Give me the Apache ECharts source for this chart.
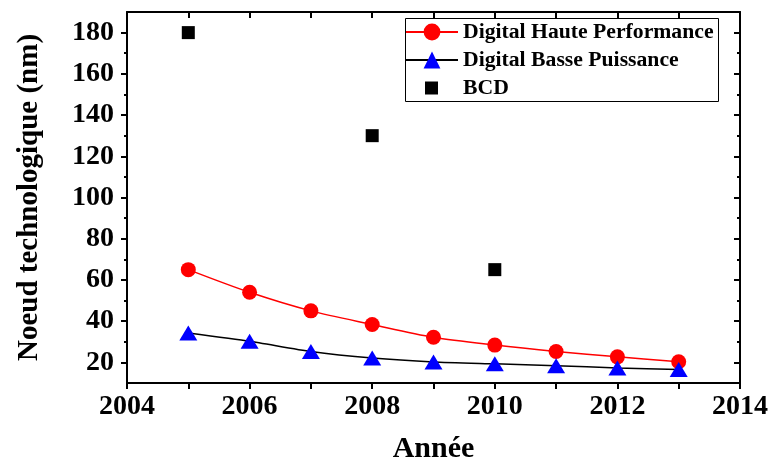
<!DOCTYPE html>
<html>
<head>
<meta charset="utf-8">
<script src="https://cdn.jsdelivr.net/npm/echarts@6/dist/echarts.min.js"></script>
<style>
  html, body { margin: 0; padding: 0; background: #fff; }
  #chart { width: 770px; height: 459px; }
</style>
</head>
<body>
<div id="chart"></div>
<script>
// ---- Data ----
const years = [2005, 2006, 2007, 2008, 2009, 2010, 2011, 2012, 2013];
const hautePerformance = [65, 54, 45, 38.4, 32.2, 28.4, 25.3, 22.7, 20.3];
const bassePuissance = [34.3, 30.3, 25.3, 22.1, 20.2, 19.3, 18.4, 17.3, 16.6];
const bcdYears = [2005, 2008, 2010];
const bcdValues = [180, 130, 65];
const yMajorTicks = [20, 40, 60, 80, 100, 120, 140, 160, 180];
const yMinorTicks = [30, 50, 70, 90, 110, 130, 150, 170];
const seriesNames = ['Digital Haute Performance', 'Digital Basse Puissance', 'BCD'];
const xTitle = 'Année';
const yTitle = 'Noeud technologique (nm)';

const FONT = '"Liberation Serif", "Times New Roman", serif';
const chart = echarts.init(document.getElementById('chart'), null, { renderer: 'canvas' });

const axisLine = { show: true, onZero: false, lineStyle: { color: '#000', width: 2 } };
const legendText = { fontFamily: FONT, fontWeight: 'bold', fontSize: 21.7, color: '#000', lineHeight: 22 };

const option = {
  backgroundColor: '#fff',
  animation: false,
  grid: { left: 127, right: 30, top: 12, bottom: 76, containLabel: false, outerBoundsMode: 'none' },
  legend: [
    {
      data: [seriesNames[0], seriesNames[1]],
      orient: 'vertical',
      left: 403, top: 21,
      padding: [0, 0, 0, 2],
      itemWidth: 52, itemHeight: 21, itemGap: 6,
      textStyle: legendText
    },
    {
      data: [seriesNames[2]],
      orient: 'vertical',
      left: 425, top: 77,
      padding: 0,
      itemWidth: 13, itemHeight: 13,
      textStyle: Object.assign({}, legendText, { padding: [0, 0, 0, 20] })
    }
  ],
  graphic: [{
    type: 'rect', left: 403, top: 16, z: 100,
    shape: { width: 313, height: 83 },
    style: { fill: 'none', stroke: '#000', lineWidth: 1 }
  }],
  xAxis: [
    {
      type: 'value', position: 'bottom', min: 2004, max: 2014, interval: 2,
      axisLine: axisLine,
      axisTick: { show: true, inside: false, length: 6, lineStyle: { color: '#000', width: 2 } },
      minorTick: { show: true, splitNumber: 2, length: 6, lineStyle: { color: '#000', width: 2 } },
      splitLine: { show: false }, minorSplitLine: { show: false },
      axisLabel: { fontFamily: FONT, fontWeight: 'bold', fontSize: 28, color: '#000', margin: 10,
                   formatter: v => String(v) },
      name: xTitle, nameLocation: 'middle', nameGap: 51,
      nameTextStyle: { fontFamily: FONT, fontWeight: 'bold', fontSize: 30, color: '#000' }
    },
    {
      type: 'value', position: 'top', min: 2004, max: 2014, interval: 2,
      axisLine: axisLine,
      axisTick: { show: true, inside: true, length: 6, lineStyle: { color: '#000', width: 2 } },
      minorTick: { show: true, splitNumber: 2, length: 6, lineStyle: { color: '#000', width: 2 } },
      splitLine: { show: false }, minorSplitLine: { show: false },
      axisLabel: { show: false }
    }
  ],
  yAxis: [
    {
      type: 'value', position: 'left', min: 10, max: 190,
      axisLine: axisLine,
      axisTick: { show: true, inside: false, length: 6, customValues: yMajorTicks, lineStyle: { color: '#000', width: 2 } },
      splitLine: { show: false },
      axisLabel: { customValues: yMajorTicks, fontFamily: FONT, fontWeight: 'bold', fontSize: 28, color: '#000', margin: 13 },
      name: yTitle, nameLocation: 'middle', nameGap: 83,
      nameTextStyle: { fontFamily: FONT, fontWeight: 'bold', fontSize: 29, color: '#000' }
    },
    {
      type: 'value', position: 'right', min: 10, max: 190,
      axisLine: axisLine,
      axisTick: { show: true, inside: true, length: 6, customValues: yMajorTicks, lineStyle: { color: '#000', width: 2 } },
      splitLine: { show: false },
      axisLabel: { show: false }
    },
    {
      type: 'value', position: 'left', min: 10, max: 190,
      axisLine: { show: false },
      axisTick: { show: true, inside: false, length: 3, customValues: yMinorTicks, lineStyle: { color: '#000', width: 2 } },
      splitLine: { show: false },
      axisLabel: { show: false }
    },
    {
      type: 'value', position: 'right', min: 10, max: 190,
      axisLine: { show: false },
      axisTick: { show: true, inside: true, length: 3, customValues: yMinorTicks, lineStyle: { color: '#000', width: 2 } },
      splitLine: { show: false },
      axisLabel: { show: false }
    }
  ],
  series: [
    {
      name: seriesNames[0], type: 'line', xAxisIndex: 0, yAxisIndex: 0,
      data: years.map((y, i) => [y, hautePerformance[i]]),
      smooth: 0.3,
      symbol: 'circle', symbolSize: 15,
      lineStyle: { color: '#ff0000', width: 1.5 },
      itemStyle: { color: '#ff0000' },
      z: 2
    },
    {
      name: seriesNames[1], type: 'line', xAxisIndex: 0, yAxisIndex: 0,
      data: years.map((y, i) => [y, bassePuissance[i]]),
      smooth: 0.2,
      symbol: 'triangle', symbolSize: [18, 15],
      lineStyle: { color: '#000', width: 1.5 },
      itemStyle: { color: '#0000ff' },
      z: 3
    },
    {
      name: seriesNames[2], type: 'scatter', xAxisIndex: 0, yAxisIndex: 0,
      data: bcdYears.map((y, i) => [y, bcdValues[i]]),
      symbol: 'rect', symbolSize: 13,
      itemStyle: { color: '#000', opacity: 1 },
      z: 4
    }
  ]
};
chart.setOption(option);
</script>
</body>
</html>
